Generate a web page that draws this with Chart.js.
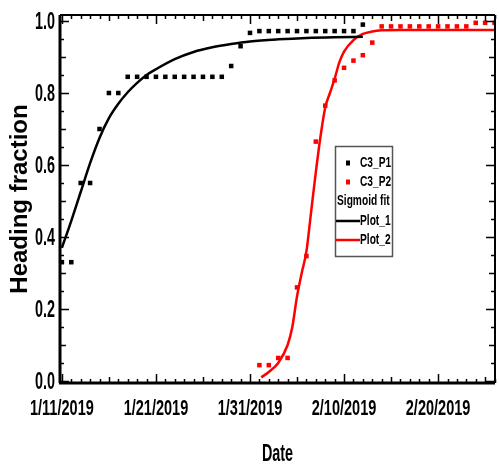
<!DOCTYPE html>
<html>
<head>
<meta charset="utf-8">
<script src="https://cdn.jsdelivr.net/npm/chart.js@4/dist/chart.umd.min.js"></script>
<style>
  html, body { margin: 0; padding: 0; background: #fff; }
  canvas { display: block; }
</style>
</head>
<body>
<canvas id="grafico" width="499" height="466"></canvas>
<script>
// eixo x em dias desde 1/11/2019
const xTickDays = [0, 10, 20, 30, 40];
const xTickLabels = ['1/11/2019', '1/21/2019', '1/31/2019', '2/10/2019', '2/20/2019'];
const yTickVals = [0, 0.2, 0.4, 0.6, 0.8, 1.0];
const yTickLabels = ['0.0', '0.2', '0.4', '0.6', '0.8', '1.0'];

// pontos medidos
const p1Days = [0, 1, 2, 3, 4, 5, 6, 7, 8, 9, 10, 11, 12, 13, 14, 15, 16, 17, 18, 19, 20,
                21, 22, 23, 24, 25, 26, 27, 28, 29, 30, 31, 32];
const p1Vals = [0.33, 0.33, 0.55, 0.55, 0.70, 0.80, 0.80, 0.845, 0.845, 0.845, 0.845, 0.845,
                0.845, 0.845, 0.845, 0.845, 0.845, 0.845, 0.875, 0.93, 0.967,
                0.972, 0.972, 0.972, 0.972, 0.972, 0.972, 0.972, 0.972, 0.972, 0.972, 0.972, 0.99];
const p2Days = [21, 22, 23, 24, 25, 26, 27, 28, 29, 30, 31, 32, 33,
                34, 35, 36, 37, 38, 39, 40, 41, 42, 43, 44, 45, 46];
const p2Vals = [0.044, 0.044, 0.064, 0.064, 0.26, 0.347, 0.665, 0.765, 0.835, 0.87, 0.89, 0.905, 0.94,
                0.985, 0.985, 0.985, 0.985, 0.985, 0.985, 0.985, 0.985, 0.985, 0.985, 0.995, 0.995, 0.995];

// curvas sigmoides
const fit1Days = [0, 1, 2, 3, 4, 5, 6, 7, 8, 9, 10, 12, 14, 16, 18, 20, 23, 26, 29, 32];
const fit1Vals = [0.37, 0.445, 0.525, 0.605, 0.675, 0.73, 0.77, 0.802, 0.828, 0.85, 0.866,
                  0.894, 0.914, 0.927, 0.936, 0.943, 0.949, 0.953, 0.955, 0.956];
const fit2Days = [21.2, 22, 23, 24, 24.5, 25, 25.5, 26, 26.5, 27, 27.5, 28, 28.5, 29, 29.5,
                  30, 31, 32, 33, 34, 36, 46.05];
const fit2Vals = [0.01, 0.025, 0.05, 0.1, 0.15, 0.235, 0.3, 0.36, 0.47, 0.58, 0.68, 0.76, 0.80,
                  0.84, 0.885, 0.915, 0.947, 0.964, 0.971, 0.974, 0.975, 0.975];

const pares = (xs, ys) => xs.map((d, i) => ({ x: d, y: ys[i] }));
const fonte = "'Liberation Sans', Arial, sans-serif";

// texto estreito (a fonte original é tipo Arial Narrow)
function textoEstreito(ctx, txt, x, y, size, sx, align) {
  ctx.save();
  ctx.translate(x, y);
  ctx.scale(sx, 1);
  ctx.font = 'bold ' + size + 'px ' + fonte;
  ctx.textAlign = align;
  ctx.textBaseline = 'middle';
  ctx.fillStyle = '#000';
  ctx.fillText(txt, 0, 0);
  ctx.restore();
}

// moldura com ticks para dentro nos quatro lados
const moldura = {
  id: 'moldura',
  afterDatasetsDraw(chart) {
    const { ctx, chartArea: a, scales: { x, y } } = chart;
    ctx.save();
    ctx.strokeStyle = '#000';
    ctx.lineWidth = 1.5;
    ctx.beginPath();
    for (let d = 0; d <= 46; d++) {
      const px = Math.round(x.getPixelForValue(d)) + 0.5;
      const len = d % 10 === 0 ? 9 : (d % 5 === 0 ? 6 : 4);
      ctx.moveTo(px, a.bottom); ctx.lineTo(px, a.bottom - len);
      ctx.moveTo(px, a.top); ctx.lineTo(px, a.top + len);
    }
    for (let i = 0; i <= 20; i++) {
      const py = Math.round(y.getPixelForValue(i * 0.05)) + 0.5;
      const len = i % 4 === 0 ? 9 : (i % 2 === 0 ? 6 : 4);
      ctx.moveTo(a.left, py); ctx.lineTo(a.left + len, py);
      ctx.moveTo(a.right, py); ctx.lineTo(a.right - len, py);
    }
    ctx.stroke();

    ctx.lineWidth = 3;
    ctx.beginPath();
    ctx.moveTo(a.left, a.top); ctx.lineTo(a.left, a.bottom);
    ctx.moveTo(a.left - 1, a.bottom); ctx.lineTo(a.right, a.bottom);
    ctx.stroke();
    ctx.lineWidth = 2;
    ctx.beginPath();
    ctx.moveTo(a.left, a.top); ctx.lineTo(a.right, a.top);
    ctx.moveTo(a.right, a.top); ctx.lineTo(a.right, a.bottom);
    ctx.stroke();

    // rótulos dos ticks e título do eixo x
    x.ticks.forEach(t => {
      textoEstreito(ctx, xTickLabels[xTickDays.indexOf(t.value)],
        x.getPixelForValue(t.value), 408.5, 22, 0.66, 'center');
    });
    y.ticks.forEach(t => {
      textoEstreito(ctx, yTickLabels[yTickVals.indexOf(t.value)],
        a.left - 5, y.getPixelForValue(t.value) + 1, 24, 0.6, 'right');
    });
    textoEstreito(ctx, 'Date', (a.left + a.right) / 2, 454, 24, 0.6, 'center');
    ctx.restore();
  }
};

// legenda desenhada dentro do gráfico
const legenda = {
  id: 'legenda',
  afterDraw(chart) {
    const { ctx } = chart;
    const ds = chart.data.datasets;
    const bx = 335, by = 146, bw = 57, bh = 110;
    ctx.save();
    ctx.fillStyle = '#fff';
    ctx.fillRect(bx, by, bw, bh);
    ctx.strokeStyle = '#555';
    ctx.lineWidth = 1.5;
    ctx.strokeRect(bx + 0.5, by + 0.5, bw, bh);
    [ds[0], ds[1]].forEach((d, i) => {
      const yy = 163 + i * 19;
      ctx.fillStyle = d.backgroundColor;
      ctx.fillRect(346, yy - 2.5, 4, 5);
      textoEstreito(ctx, d.label, 360, yy, 15, 0.68, 'left');
    });
    textoEstreito(ctx, 'Sigmoid fit', 337, 201, 15, 0.68, 'left');
    [ds[2], ds[3]].forEach((d, i) => {
      const yy = 221 + i * 19;
      ctx.strokeStyle = d.borderColor;
      ctx.lineWidth = 2.5;
      ctx.beginPath();
      ctx.moveTo(336, yy); ctx.lineTo(360, yy);
      ctx.stroke();
      textoEstreito(ctx, d.label, 360, yy, 15, 0.68, 'left');
    });
    ctx.restore();
  }
};

const ctx = document.getElementById('grafico').getContext('2d');

const grafico = new Chart(ctx, {
  type: 'scatter',
  data: {
    datasets: [
      {
        label: 'C3_P1',
        data: pares(p1Days, p1Vals),
        backgroundColor: '#000',
        borderColor: '#000',
        pointStyle: 'rect',
        pointRadius: 3.2,
        borderWidth: 0
      },
      {
        label: 'C3_P2',
        data: pares(p2Days, p2Vals),
        backgroundColor: '#f00',
        borderColor: '#f00',
        pointStyle: 'rect',
        pointRadius: 3.2,
        borderWidth: 0
      },
      {
        label: 'Plot_1',
        data: pares(fit1Days, fit1Vals),
        showLine: true,
        borderColor: '#000',
        backgroundColor: '#000',
        borderWidth: 2.5,
        pointRadius: 0,
        cubicInterpolationMode: 'monotone'
      },
      {
        label: 'Plot_2',
        data: pares(fit2Days, fit2Vals),
        showLine: true,
        borderColor: '#f00',
        backgroundColor: '#f00',
        borderWidth: 2.5,
        pointRadius: 0,
        cubicInterpolationMode: 'monotone'
      }
    ]
  },
  options: {
    responsive: false,
    animation: false,
    layout: { padding: { top: 15, right: 2, left: 0, bottom: 0 } },
    plugins: {
      legend: { display: false },
      tooltip: { enabled: false }
    },
    scales: {
      x: {
        type: 'linear',
        min: -0.2,
        max: 46.05,
        grid: { display: false, drawTicks: false },
        border: { display: false },
        afterBuildTicks: s => { s.ticks = xTickDays.map(v => ({ value: v })); },
        afterFit: s => { s.height = 83; },
        ticks: { display: false },
        title: { display: false }
      },
      y: {
        type: 'linear',
        min: -0.0056,
        max: 1.0167,
        grid: { display: false, drawTicks: false },
        border: { display: false },
        afterBuildTicks: s => { s.ticks = yTickVals.map(v => ({ value: v })); },
        afterFit: s => { s.width = 60; },
        ticks: { display: false },
        title: {
          display: true,
          text: 'Heading fraction',
          color: '#000',
          padding: { top: 6, bottom: 0 },
          font: { family: fonte, size: 24, weight: 'bold' }
        }
      }
    }
  },
  plugins: [moldura, legenda]
});
</script>
</body>
</html>
